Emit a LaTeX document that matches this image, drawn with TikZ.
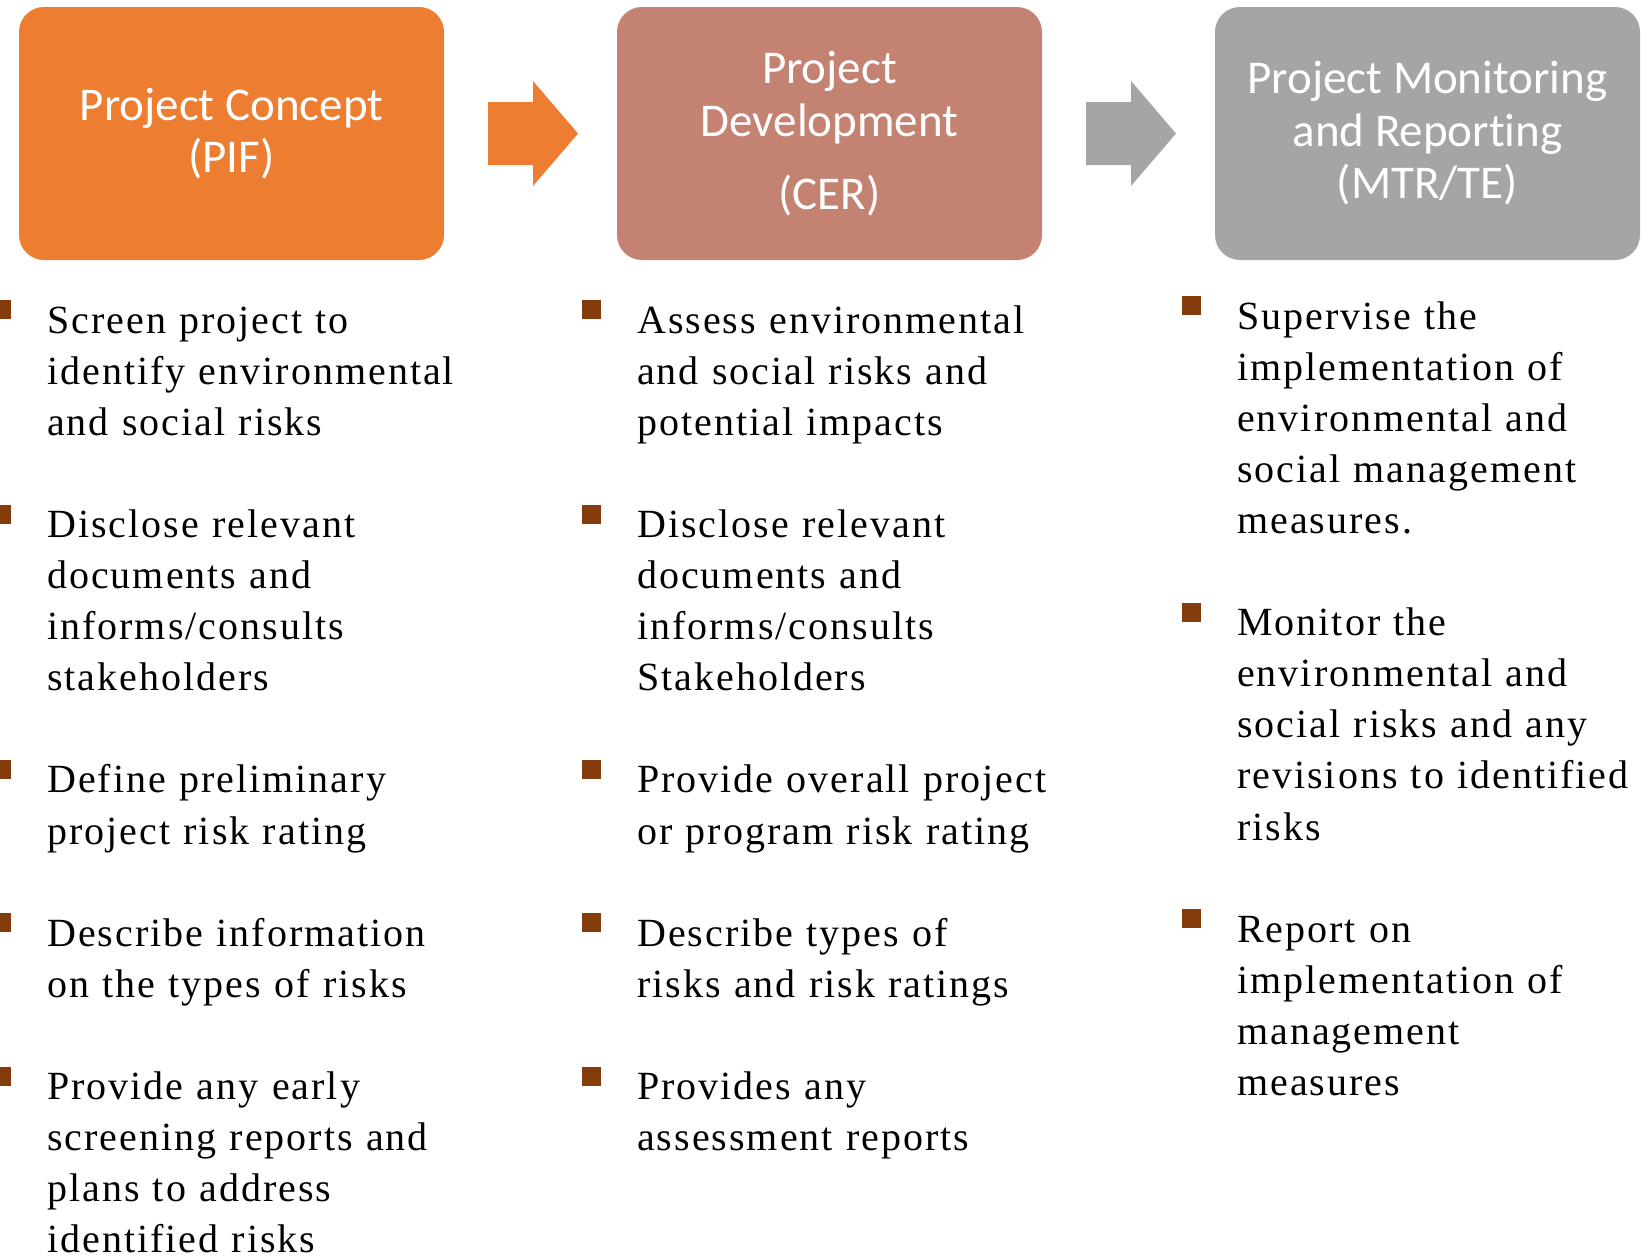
\documentclass[tikz,border=0pt]{standalone}
\usepackage{fontspec}
\setmainfont{Liberation Serif}[LetterSpace=5]
\newfontfamily\hdfont{Carlito}[Ligatures=NoCommon]
\usetikzlibrary{calc}
\definecolor{orangeA}{HTML}{ED7D31}
\definecolor{roseA}{HTML}{C48272}
\definecolor{grayA}{HTML}{A5A5A5}
\definecolor{bulletc}{HTML}{843C0C}
\newcommand{\blockarrow}[2]{%
  \fill[#1] ($(#2)+(-45,-31.5)$) -- ++(45,0) -- ++(0,-21) -- ++(45,52.5)
    -- ++(-45,52.5) -- ++(0,-21) -- ++(-45,0) -- cycle;}
\begin{document}
\begin{tikzpicture}[x=1pt,y=-1pt,
  phase/.style={rounded corners=25pt, minimum width=425pt, minimum height=253pt,
    inner sep=0pt, align=center, text=white,
    font=\hdfont\fontsize{47}{52.5}\selectfont},
  itemtext/.style={anchor=base west, inner sep=0pt, text width=560pt, align=left,
    font=\fontsize{40}{51.1}\selectfont},
  bul/.style={fill=bulletc, minimum size=19pt, inner sep=0pt, anchor=north west}]
\useasboundingbox (0,0) rectangle (1641,1256);
% header boxes
\node[phase, fill=orangeA] (b1) at (231.5,133.5) {Project Concept\\(PIF)};
\node[phase, fill=roseA, font=\hdfont\fontsize{47}{53}\selectfont] (b2) at (829.5,133.5) {Project\\Development\\[20pt](CER)};
\node[phase, fill=grayA] (b3) at (1427.5,133.5) {Project Monitoring\\and Reporting\\(MTR/TE)};
% block arrows
\coordinate (a1) at ($(b1.east)!0.5!(b2.west)+(2.5,0)$);
\coordinate (a2) at ($(b2.east)!0.5!(b3.west)+(2.5,0)$);
\blockarrow{orangeA}{a1}
\blockarrow{grayA}{a2}
% column 1
\node[itemtext] (c1a) at (47,333) {Screen project to\\identify environmental\\and social risks};
\node[itemtext] (c1b) at (47,537.4) {Disclose relevant\\documents and\\informs/consults\\stakeholders};
\node[itemtext] (c1c) at (47,792.9) {Define preliminary\\project risk rating};
\node[itemtext] (c1d) at (47,946.2) {Describe information\\on the types of risks};
\node[itemtext] (c1e) at (47,1099.5) {Provide any early\\screening reports and\\plans to address\\identified risks};
% column 2
\node[itemtext] (c2a) at (637,333) {Assess environmental\\and social risks and\\potential impacts};
\node[itemtext] (c2b) at (637,537.4) {Disclose relevant\\documents and\\informs/consults\\Stakeholders};
\node[itemtext] (c2c) at (637,792.9) {Provide overall project\\or program risk rating};
\node[itemtext] (c2d) at (637,946.2) {Describe types of\\risks and risk ratings};
\node[itemtext] (c2e) at (637,1099.5) {Provides any\\assessment reports};
% column 3
\node[itemtext] (c3a) at (1237,329) {Supervise the\\implementation of\\environmental and\\social management\\measures.};
\node[itemtext] (c3b) at (1237,635.6) {Monitor the\\environmental and\\social risks and any\\revisions to identified\\risks};
\node[itemtext] (c3c) at (1237,942.2) {Report on\\implementation of\\management\\measures};
% bullets
\foreach \n in {c1a,c1b,c1c,c1d,c1e,c2a,c2b,c2c,c2d,c2e,c3a,c3b,c3c}{
  \node[bul] (\n-b) at ($(\n.base west)+(-55,-33)$) {};
}
\end{tikzpicture}
\end{document}
